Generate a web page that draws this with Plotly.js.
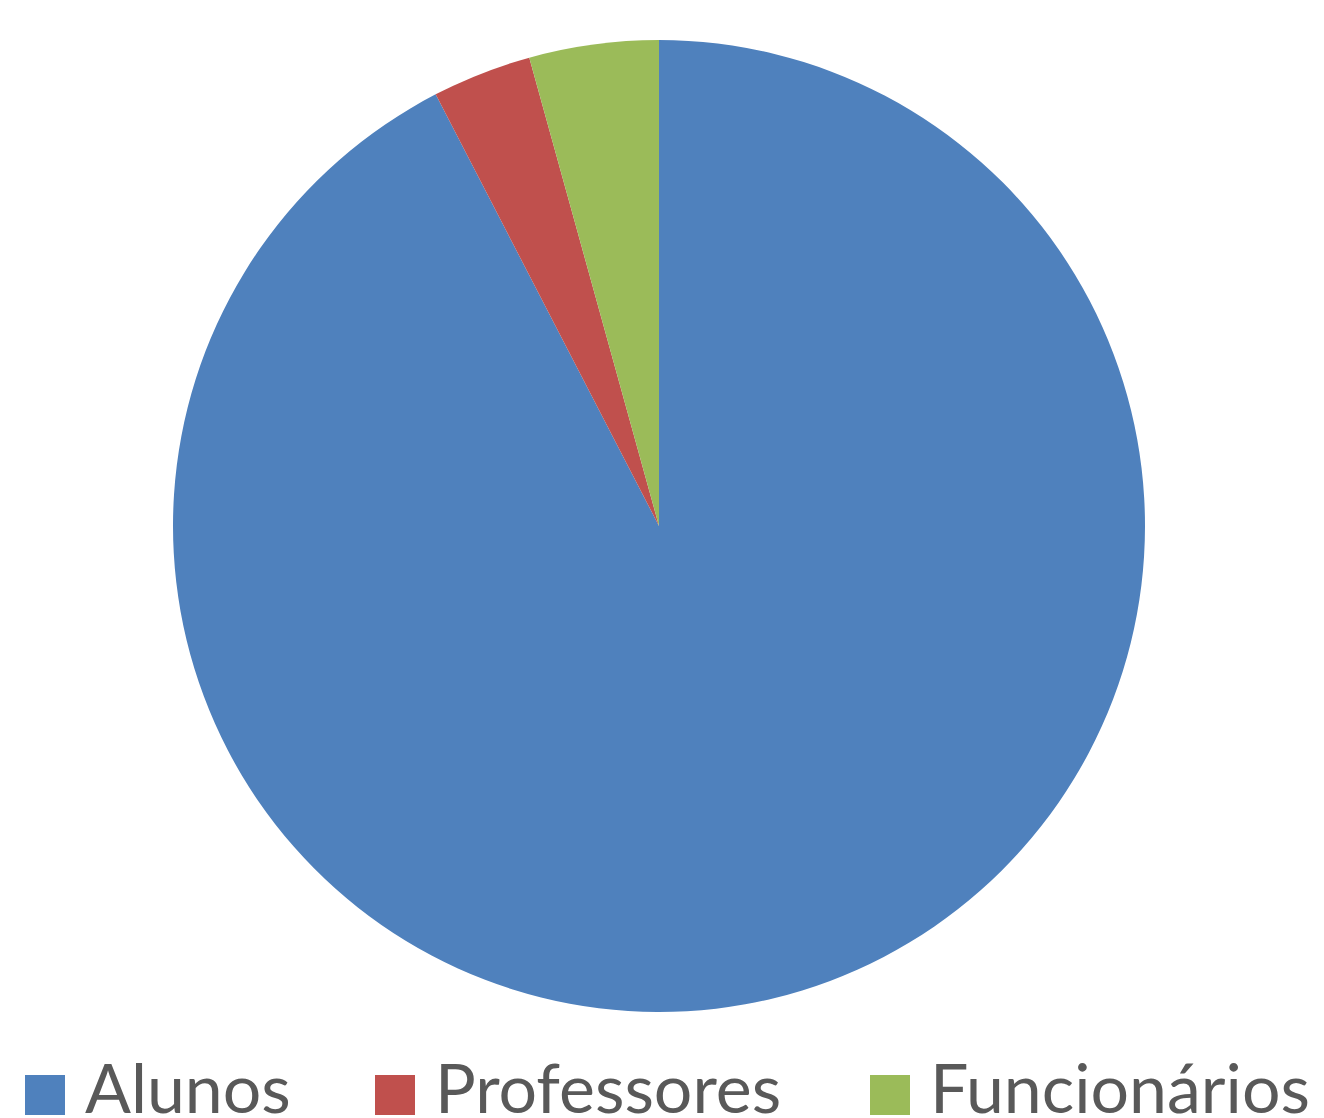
<!DOCTYPE html>
<html>
<head>
<meta charset="utf-8">
<script src="https://cdn.plot.ly/plotly-3.0.1.min.js"></script>
<style>html,body{margin:0;padding:0;background:#fff;}#chart{width:1324px;height:1118px;}</style>
</head>
<body>
<div id="chart"></div>
<script>
// Data
const labels = ["Alunos", "Professores", "Funcionários"];
const values = [92.4, 3.3, 4.3];
const colors = ["#4F81BD", "#C0504D", "#9BBB59"];

// Layout constants (pixels)
const W = 1324, H = 1118;
const legendSquareX = [25, 375, 870];
const squareSize = 40;
const squareTop = 1075;
const textGap = 20;

const px = x => x / W;
const py = y => (H - y) / H;

const shapes = labels.map((l, i) => ({
  type: "rect", xref: "paper", yref: "paper",
  x0: px(legendSquareX[i]), x1: px(legendSquareX[i] + squareSize),
  y0: py(squareTop + squareSize), y1: py(squareTop),
  fillcolor: colors[i], line: {width: 0}
}));
const annotations = labels.map((l, i) => ({
  text: l, xref: "paper", yref: "paper",
  x: px(legendSquareX[i] + squareSize + textGap - 2), y: py(1086),
  xanchor: "left", yanchor: "middle", showarrow: false,
  font: {family: "Lato, 'Open Sans', sans-serif", size: 68, color: "#595959"}
}));

const trace = {
  type: "pie",
  labels: labels, values: values,
  marker: {colors: colors, line: {width: 0}},
  sort: false, direction: "clockwise", rotation: 0,
  textinfo: "none", hoverinfo: "label+percent",
  domain: {x: [px(173), px(1145)], y: [py(1012), py(40)]}
};

Plotly.newPlot("chart", [trace], {
  width: W, height: H,
  margin: {l: 0, r: 0, t: 0, b: 0},
  paper_bgcolor: "#fff",
  showlegend: false,
  shapes: shapes,
  annotations: annotations
}, {displayModeBar: false});
</script>
</body>
</html>
